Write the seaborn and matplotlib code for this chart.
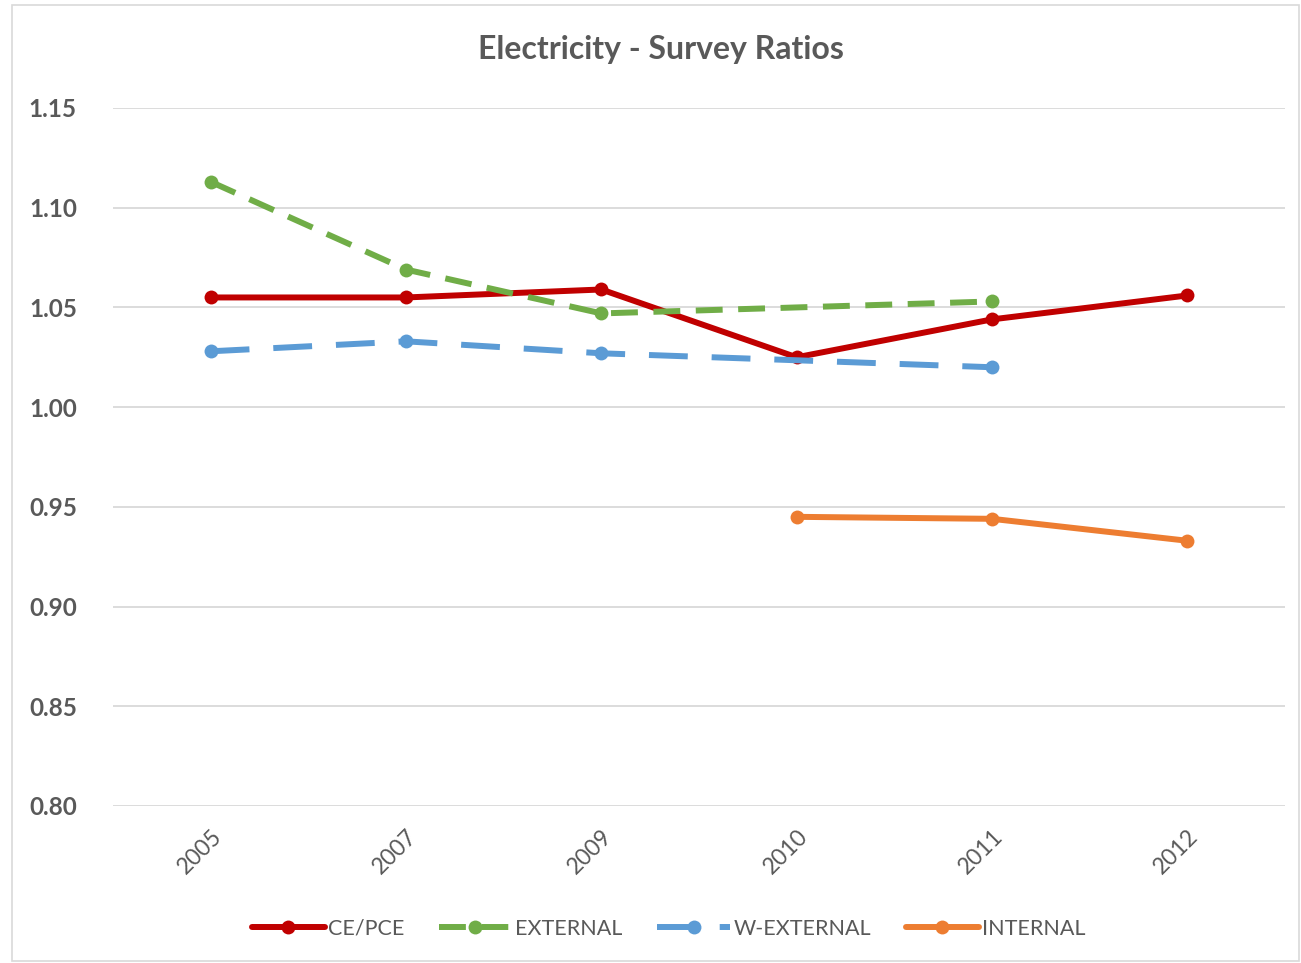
import numpy as np
import pandas as pd
import matplotlib
matplotlib.use("Agg")
import matplotlib.pyplot as plt
import seaborn as sns

years = ["2005", "2007", "2009", "2010", "2011", "2012"]
ce_pce = [1.055, 1.055, 1.059, 1.025, 1.044, 1.056]
external = [1.113, 1.069, 1.047, np.nan, 1.053, np.nan]
w_external = [1.028, 1.033, 1.027, np.nan, 1.020, np.nan]
internal = [np.nan, np.nan, np.nan, 0.945, 0.944, 0.933]
yticks = [0.80, 0.85, 0.90, 0.95, 1.00, 1.05, 1.10, 1.15]

series = {
    "CE/PCE": ce_pce,
    "EXTERNAL": external,
    "W-EXTERNAL": w_external,
    "INTERNAL": internal,
}
colors = {
    "CE/PCE": "#C00000",
    "EXTERNAL": "#70AD47",
    "W-EXTERNAL": "#5B9BD5",
    "INTERNAL": "#ED7D31",
}
dashes = {
    "CE/PCE": "",
    "EXTERNAL": (4.5, 2.6),
    "W-EXTERNAL": (6.5, 4.0),
    "INTERNAL": "",
}

rows = []
for name, vals in series.items():
    for i, v in enumerate(vals):
        if not np.isnan(v):
            rows.append({"pos": i, "ratio": v, "series": name})
df = pd.DataFrame(rows)

sns.set_theme(style="white")
plt.rcParams["font.family"] = ["Lato", "DejaVu Sans"]

fig = plt.figure(figsize=(13.01, 9.63), dpi=100)
ax = fig.add_axes([113 / 1301, 1 - 806 / 963, 1172 / 1301, 698 / 963])

order = list(series.keys())
sns.lineplot(
    data=df, x="pos", y="ratio", hue="series", style="series",
    hue_order=order, style_order=order,
    palette=colors, dashes=dashes, markers={k: "o" for k in order},
    markersize=10, markeredgewidth=0, linewidth=4.3, ax=ax, legend=True,
)

ax.set_xlim(-0.5, 5.5)
ax.set_ylim(0.80, 1.15)
ax.set_yticks(yticks)
ax.set_yticklabels([f"{t:.2f}" for t in yticks])
ax.set_xticks(range(len(years)))
ax.set_xticklabels(years, rotation=45, ha="right", rotation_mode="anchor")
ax.grid(axis="y", color="#D9D9D9", linewidth=1.3)
ax.set_axisbelow(True)
for s in ax.spines.values():
    s.set_visible(False)
ax.tick_params(axis="y", labelsize=17.5, labelcolor="#595959", length=0, pad=26)
ax.tick_params(axis="x", labelsize=16.5, labelcolor="#595959", length=0, pad=14)
for lbl in ax.get_yticklabels():
    lbl.set_fontweight("bold")
ax.set_xlabel("")
ax.set_ylabel("")

handles, labels = ax.get_legend_handles_labels()
ax.legend(
    handles, labels, loc="center", bbox_to_anchor=(0.474, -0.176),
    ncol=4, frameon=False, fontsize=15.5, labelcolor="#595959",
    handlelength=3.4, handletextpad=0.15, columnspacing=1.6,
)

fig.text(0.508, 1 - 50 / 963, "Electricity - Survey Ratios", ha="center", va="center",
         fontsize=23, fontweight="bold", color="#595959")

border = plt.Rectangle((12 / 1301, 2 / 963), 1 - 14 / 1301, 1 - 7 / 963,
                       transform=fig.transFigure, fill=False,
                       edgecolor="#D9D9D9", linewidth=1.2)
fig.patches.append(border)

fig.savefig("out.png", dpi=100, facecolor="white")
